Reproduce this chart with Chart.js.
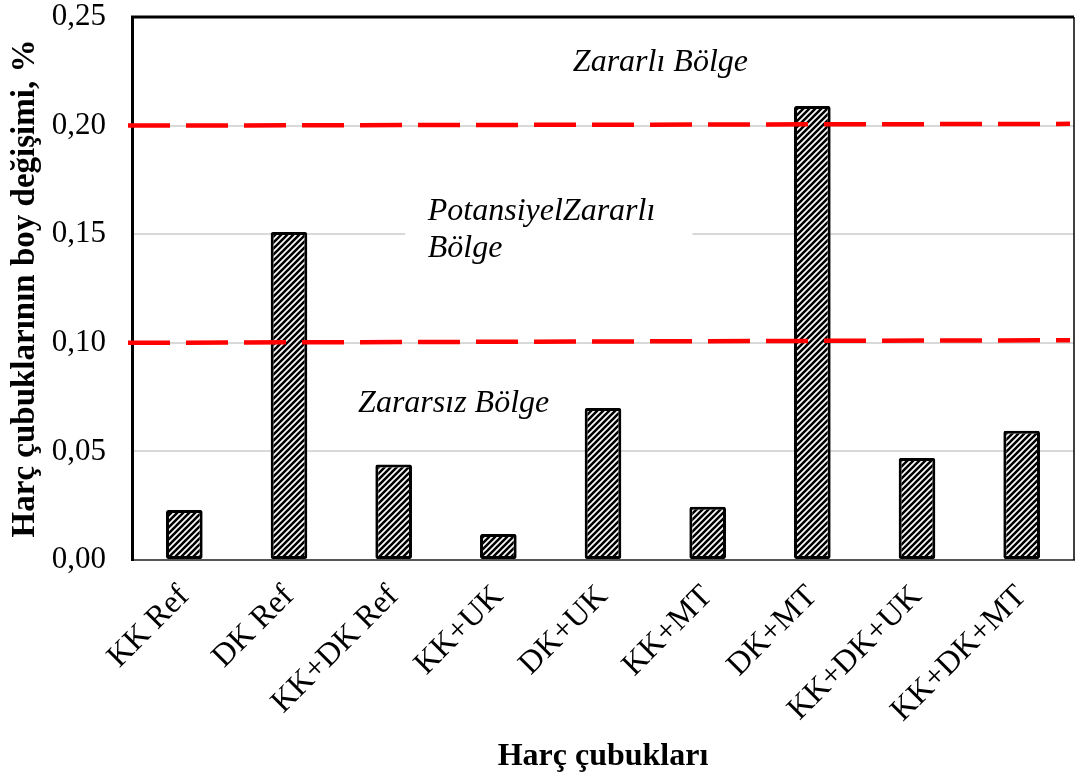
<!DOCTYPE html>
<html>
<head>
<meta charset="utf-8">
<script src="https://cdn.jsdelivr.net/npm/chart.js@4/dist/chart.umd.min.js"></script>
<style>
  html, body { margin: 0; padding: 0; background: #fff; }
  #wrap { width: 1076px; height: 778px; }
</style>
</head>
<body>
<div id="wrap"><canvas id="barChart"></canvas></div>
<script>
const categories = ["KK Ref", "DK Ref", "KK+DK Ref", "KK+UK", "DK+UK", "KK+MT", "DK+MT", "KK+DK+UK", "KK+DK+MT"];
const lengthChange = [0.023, 0.151, 0.044, 0.012, 0.070, 0.0245, 0.209, 0.047, 0.0595];
const yTicks = [0, 0.05, 0.10, 0.15, 0.20, 0.25];
// red limit lines (value at left edge, value at right edge)
const limitStart = [0.100, 0.200];
const limitEnd = [0.1012, 0.2008];
const zoneLabels = [["Zararlı Bölge"], ["PotansiyelZararlı", "Bölge"], ["Zararsız Bölge"]];
const zoneValues = [0.229, 0.152, 0.072];

const serif = "'Liberation Serif', 'Times New Roman', serif";

// diagonal hatch for the bars
function makeHatch() {
  const c = document.createElement("canvas");
  c.width = 6; c.height = 6;
  const g = c.getContext("2d");
  g.fillStyle = "#fff";
  g.fillRect(0, 0, 6, 6);
  g.strokeStyle = "#000";
  g.lineWidth = 2.6;
  g.beginPath();
  g.moveTo(-1, 1); g.lineTo(1, -1);
  g.moveTo(0, 6); g.lineTo(6, 0);
  g.moveTo(5, 7); g.lineTo(7, 5);
  g.stroke();
  return g.createPattern(c, "repeat");
}

const zonesPlugin = {
  id: "zones",
  beforeDatasetsDraw(chart) {
    const { ctx, chartArea, scales } = chart;
    // white box behind the middle label
    ctx.save();
    ctx.fillStyle = "#fff";
    const yMid = scales.y.getPixelForValue(zoneValues[1]);
    ctx.fillRect(chartArea.left + 0.29 * chartArea.width, yMid - 40, 0.305 * chartArea.width, 80);
    ctx.restore();
  },
  afterDatasetsDraw(chart) {
    const { ctx, chartArea, scales } = chart;
    ctx.save();
    // limit lines
    ctx.strokeStyle = "#ff0000";
    ctx.lineWidth = 4.5;
    ctx.setLineDash([42, 16]);
    limitStart.forEach((v, i) => {
      ctx.beginPath();
      ctx.moveTo(chartArea.left - 4, scales.y.getPixelForValue(v));
      ctx.lineTo(chartArea.right - 4, scales.y.getPixelForValue(limitEnd[i]));
      ctx.stroke();
    });
    ctx.setLineDash([]);

    // zone texts
    ctx.fillStyle = "#000";
    ctx.font = "italic 32px " + serif;
    ctx.textBaseline = "middle";
    ctx.textAlign = "left";
    const xs = [0.468, 0.314, 0.240];
    zoneLabels.forEach((lines, i) => {
      const y0 = scales.y.getPixelForValue(zoneValues[i]);
      const x0 = chartArea.left + xs[i] * chartArea.width;
      lines.forEach((t, j) => {
        const off = (j - (lines.length - 1) / 2) * 37;
        ctx.fillText(t, x0, y0 + off);
      });
    });

    // frame: top and right
    ctx.strokeStyle = "#000";
    ctx.lineWidth = 3;
    ctx.beginPath();
    ctx.moveTo(chartArea.left - 1, chartArea.top);
    ctx.lineTo(chartArea.right, chartArea.top);
    ctx.stroke();
    ctx.lineWidth = 1.5;
    ctx.beginPath();
    ctx.moveTo(chartArea.right, chartArea.top);
    ctx.lineTo(chartArea.right, chartArea.bottom);
    ctx.stroke();
    ctx.restore();
  }
};

const barChart = new Chart(document.getElementById("barChart"), {
  type: "bar",
  data: {
    labels: categories,
    datasets: [{
      label: "Harç çubuklarının boy değişimi",
      data: lengthChange,
      backgroundColor: makeHatch(),
      borderColor: "#000",
      borderWidth: 3,
      borderRadius: 2,
      borderSkipped: false,
      barPercentage: 0.35,
      categoryPercentage: 1
    }]
  },
  plugins: [zonesPlugin],
  options: {
    responsive: true,
    maintainAspectRatio: false,
    animation: false,
    devicePixelRatio: 1,
    layout: { padding: { top: 17, right: 2, left: 6, bottom: 2 } },
    plugins: {
      legend: { display: false },
      tooltip: { enabled: false }
    },
    scales: {
      x: {
        afterFit(axis) { axis.paddingLeft = 0; axis.paddingRight = 0; axis.height = 216; },
        grid: { display: false, drawTicks: false },
        border: { color: "#555", width: 2 },
        ticks: {
          color: "#000",
          font: { family: serif, size: 32 },
          maxRotation: 45,
          minRotation: 45,
          padding: 18,
          autoSkip: false
        },
        title: {
          display: true,
          text: "Harç çubukları",
          color: "#000",
          font: { family: serif, size: 32, weight: "bold" },
          padding: { top: 4, bottom: 0 }
        }
      },
      y: {
        min: 0,
        max: 0.25,
        afterFit(axis) { axis.paddingTop = 0; axis.paddingBottom = 0; axis.width = 126; },
        afterBuildTicks(axis) { axis.ticks = yTicks.map(v => ({ value: v })); },
        grid: { color: "#d9d9d9", lineWidth: 2, drawTicks: false },
        border: { color: "#000", width: 3 },
        ticks: {
          color: "#000",
          font: { family: serif, size: 31 },
          padding: 26,
          callback: v => v.toFixed(2).replace(".", ",")
        },
        title: {
          display: true,
          text: "Harç çubuklarının boy değişimi, %",
          color: "#000",
          font: { family: serif, size: 33, weight: "bold" },
          padding: { top: 0, bottom: 0 }
        }
      }
    }
  }
});
</script>
</body>
</html>
